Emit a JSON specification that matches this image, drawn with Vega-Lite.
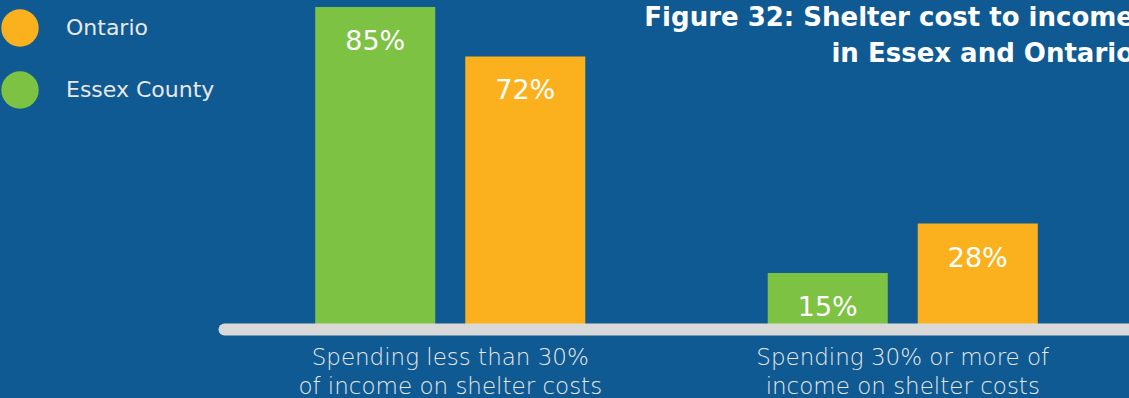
{
  "$schema": "https://vega.github.io/schema/vega-lite/v6.json",
  "width": 1129,
  "height": 330,
  "autosize": {"type": "none"},
  "padding": {"left": 0, "top": 0, "right": 0, "bottom": 68},
  "background": "#0F5A93",
  "config": {"view": {"stroke": null}, "font": "DejaVu Sans"},
  "title": {
    "text": ["Figure 32: Shelter cost to income", "in Essex and Ontario"],
    "anchor": "end",
    "frame": "group",
    "orient": "top",
    "fontSize": 26,
    "fontWeight": "bold",
    "color": "#FFFFFF",
    "baseline": "top",
    "offset": -67,
    "dx": 5,
    "lineHeight": 36
  },
  "data": {
    "values": [
      {"group": "Spending less than 30%|of income on shelter costs", "region": "Essex County", "value": 85, "label": "85%"},
      {"group": "Spending less than 30%|of income on shelter costs", "region": "Ontario", "value": 72, "label": "72%"},
      {"group": "Spending 30% or more of|income on shelter costs", "region": "Essex County", "value": 15, "label": "15%"},
      {"group": "Spending 30% or more of|income on shelter costs", "region": "Ontario", "value": 28, "label": "28%"}
    ]
  },
  "encoding": {
    "x": {
      "field": "group",
      "type": "nominal",
      "sort": null,
      "scale": {"range": [224, 1129], "paddingInner": 0, "paddingOuter": 0},
      "axis": {
        "title": null,
        "domainColor": "#D9D9D9",
        "domainWidth": 12,
        "domainCap": "round",
        "ticks": false,
        "labelAngle": 0,
        "labelLimit": 0,
        "labelExpr": "split(datum.label, '|')",
        "labelFontSize": 23,
        "labelFontWeight": 300,
        "labelColor": "#E8E8E8",
        "labelPadding": 17,
        "labelLineHeight": 29,
        "zindex": 1,
        "offset": -1
      }
    },
    "xOffset": {
      "field": "region",
      "type": "nominal",
      "sort": ["Essex County", "Ontario"],
      "scale": {"paddingInner": 0.2, "paddingOuter": 0.608}
    },
    "y": {
      "field": "value",
      "type": "quantitative",
      "scale": {"domain": [0, 86.84], "nice": false},
      "axis": null
    }
  },
  "layer": [
    {
      "mark": {"type": "bar"},
      "encoding": {
        "color": {
          "field": "region",
          "type": "nominal",
          "scale": {"domain": ["Ontario", "Essex County"], "range": ["#FBB11E", "#7DC242"]},
          "legend": {
            "orient": "none",
            "legendX": 1,
            "legendY": 9,
            "title": null,
            "symbolType": "circle",
            "symbolSize": 1400,
            "symbolStrokeWidth": 0,
            "symbolOpacity": 1,
            "labelFontSize": 22,
            "labelColor": "#E8E8E8",
            "labelOffset": 27,
            "rowPadding": 24,
            "padding": 0
          }
        }
      }
    },
    {
      "mark": {"type": "text", "baseline": "middle", "dy": 35, "fontSize": 27, "color": "#FFFFFF"},
      "encoding": {"text": {"field": "label"}}
    }
  ]
}
